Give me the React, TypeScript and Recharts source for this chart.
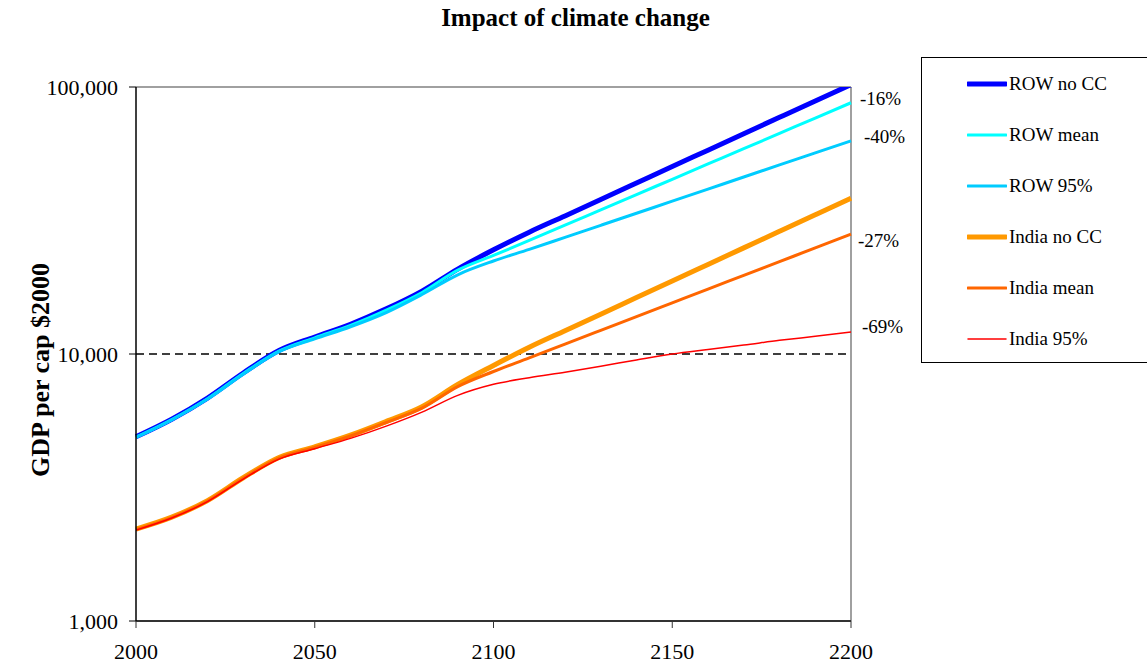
import { LineChart, Line, XAxis, YAxis, ReferenceLine, Legend, LabelList } from "recharts";

const FONT = '"Liberation Serif", "Times New Roman", serif';

const years = [
  2000, 2010, 2020, 2030, 2040, 2050, 2060, 2070, 2080, 2090, 2100,
  2110, 2120, 2130, 2140, 2150, 2160, 2170, 2180, 2190, 2200,
];

const rowNoCC = [
  4900, 5700, 6840, 8490, 10300, 11580, 12930, 14760, 17200, 20800, 24560,
  28600, 32900, 37900, 43700, 50400, 58000, 66800, 77000, 88700, 102000,
];
const rowMean = [
  4880, 5680, 6800, 8450, 10250, 11500, 12800, 14600, 17000, 20600, 23400,
  26620, 30370, 34660, 39550, 45120, 51480, 58740, 67030, 76480, 87300,
];
const row95 = [
  4870, 5660, 6780, 8400, 10200, 11400, 12650, 14300, 16700, 19800, 22300,
  24640, 27340, 30340, 33670, 37360, 41460, 46010, 51060, 56660, 62880,
];
const indiaNoCC = [
  2210, 2448, 2825, 3440, 4095, 4490, 4965, 5590, 6350, 7690, 9060,
  10600, 12230, 14100, 16270, 18770, 21650, 24970, 28800, 33220, 38320,
];
const indiaMean = [
  2200, 2440, 2815, 3425, 4075, 4465, 4930, 5540, 6270, 7550, 8600,
  9670, 10890, 12260, 13800, 15540, 17500, 19700, 22180, 24970, 28120,
];
const india95 = [
  2190, 2430, 2800, 3400, 4040, 4420, 4830, 5370, 6060, 7000, 7700,
  8150, 8550, 9000, 9500, 10000, 10400, 10800, 11250, 11650, 12080,
];

const xTicks = [2000, 2050, 2100, 2150, 2200];
const yTicks = [1000, 10000, 100000];

// end-of-line notes (change vs no CC)
const notes: Record<string, string> = {
  rowMean: "-16%",
  row95: "-40%",
  indiaMean: "-27%",
  india95: "-69%",
};
const noteShift: Record<string, [number, number]> = {
  rowMean: [9, -4],
  row95: [13, -4],
  indiaMean: [7, 6],
  india95: [11, -6],
};

const series = [
  { key: "rowNoCC", name: "ROW no CC", values: rowNoCC, color: "#0000FF", width: 5 },
  { key: "rowMean", name: "ROW mean", values: rowMean, color: "#00FFFF", width: 3 },
  { key: "row95", name: "ROW 95%", values: row95, color: "#00CCFF", width: 3 },
  { key: "indiaNoCC", name: "India no CC", values: indiaNoCC, color: "#FF9900", width: 5 },
  { key: "indiaMean", name: "India mean", values: indiaMean, color: "#FF6600", width: 3 },
  { key: "india95", name: "India 95%", values: india95, color: "#FF0000", width: 1.5 },
];

const data = years.map((year, i) => {
  const row: Record<string, number> = { year };
  series.forEach((s) => {
    row[s.key] = s.values[i];
  });
  return row;
});

const fmt = (v: number) => v.toLocaleString("en-US");

const noteLabel = (key: string) => (props: any) => {
  if (props.index !== years.length - 1) return null;
  const x = props.viewBox?.x ?? props.x;
  const y = props.viewBox?.y ?? props.y;
  const [dx, dy] = noteShift[key];
  return (
    <text
      key={`note-${key}`}
      x={x + dx}
      y={y + dy}
      dominantBaseline="central"
      fontSize={19}
      fill="#000"
      style={{ fontFamily: FONT }}
    >
      {notes[key]}
    </text>
  );
};

function LegendBox() {
  return (
    <div
      style={{
        width: 240,
        height: 306,
        border: "1px solid #000",
        background: "#fff",
        boxSizing: "border-box",
        fontFamily: FONT,
        fontSize: 19,
        color: "#000",
      }}
    >
      {series.map((s) => (
        <div
          key={s.key}
          style={{ height: 51, display: "flex", alignItems: "center", paddingLeft: 45 }}
        >
          <svg width={40} height={10}>
            <line x1={1} y1={5} x2={39} y2={5} stroke={s.color} strokeWidth={s.width} strokeLinecap="round" />
          </svg>
          <span style={{ marginLeft: 2, whiteSpace: "nowrap", fontFamily: FONT, fontSize: 19 }}>
            {s.name}
          </span>
        </div>
      ))}
    </div>
  );
}

export default function App() {
  return (
    <div style={{ position: "absolute", left: 0, top: 0, width: 1147, height: 667, background: "#fff" }}>
      <div
        style={{
          position: "absolute",
          left: 2,
          top: 5,
          width: 1147,
          textAlign: "center",
          fontFamily: FONT,
          fontWeight: "bold",
          fontSize: 25,
          lineHeight: 1,
        }}
      >
        Impact of climate change
      </div>
      <LineChart
        width={1147}
        height={667}
        data={data}
        margin={{ top: 87, right: 296, bottom: 6, left: 0 }}
      >
        <XAxis
          dataKey="year"
          type="number"
          domain={[2000, 2200]}
          ticks={xTicks}
          height={40}
          tickSize={7}
          tickMargin={15}
          axisLine={{ stroke: "#333", strokeWidth: 2 }}
          tickLine={{ stroke: "#333" }}
          tick={{ fill: "#000", fontSize: 22, fontFamily: FONT }}
        />
        <YAxis
          scale="log"
          domain={[1000, 100000]}
          allowDataOverflow
          ticks={yTicks}
          width={136}
          tickSize={7}
          tickMargin={11}
          tickFormatter={fmt}
          axisLine={{ stroke: "#000", strokeWidth: 1.5 }}
          tickLine={{ stroke: "#000" }}
          tick={{ fill: "#000", fontSize: 22, fontFamily: FONT }}
          label={{
            value: "GDP per cap $2000",
            angle: -90,
            position: "center",
            dx: -28,
            dy: 16,
            style: { fontFamily: FONT, fontWeight: "bold", fontSize: 26, fill: "#000" },
          }}
        />
        <ReferenceLine y={100000} stroke="#808080" strokeWidth={1.5} />
        <ReferenceLine x={2200} stroke="#808080" strokeWidth={1.5} />
        <ReferenceLine y={10000} stroke="#000" strokeWidth={1.3} strokeDasharray="8 5" />
        {series.map((s) => (
          <Line
            key={s.key}
            dataKey={s.key}
            name={s.name}
            type="monotone"
            stroke={s.color}
            strokeWidth={s.width}
            dot={false}
            isAnimationActive={false}
          >
            {notes[s.key] ? <LabelList dataKey={s.key} content={noteLabel(s.key)} /> : null}
          </Line>
        ))}
        <Legend
          layout="horizontal"
          verticalAlign="middle"
          align="center"
          wrapperStyle={{ left: 921, top: 57, width: 240, height: 306 }}
          content={() => <LegendBox />}
        />
      </LineChart>
    </div>
  );
}
